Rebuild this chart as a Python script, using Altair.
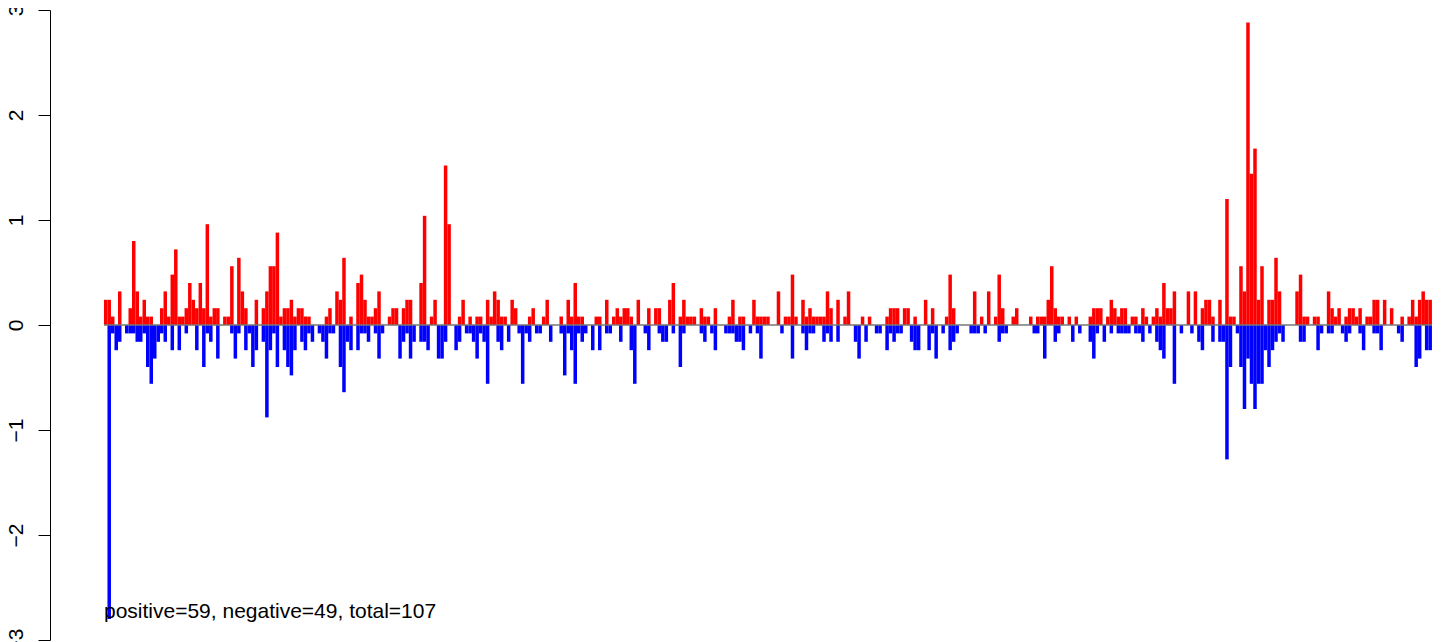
import altair as alt
import pandas as pd

# ---- data (379 positions, left to right) ----
positive_part1 = [0.24,0.24,0.08,0,0.32,0,0,0.16,0.80,0.32, 0.08,0.24,0.08,0.08,0,0,0.16,0.32,0.08,0.48,
                  0.72,0.08,0.08,0.16,0.40,0.24,0.16,0.40,0.16,0.96, 0.08,0.16,0.16,0,0.08,0.08,0.56,0,0.64,0.32,
                  0.16,0,0,0.24,0,0.16,0.32,0.56,0.56,0.88, 0.08,0.16,0.16,0.24,0.08,0.16,0.16,0.08,0.08,0,
                  0,0,0,0.08,0.16,0,0.32,0.24,0.64,0, 0.08,0,0.40,0.48,0.24,0.08]
positive_part2 = [0.08,0.16,0.32,0,0,0.08,0.16,0.16,0,0.16, 0.24,0.24,0,0,0.40,1.04,0,0.08,0.24,0,
                  0,1.52,0.96,0,0,0.08,0.24,0,0.08,0, 0.08,0.08,0,0.24,0.08,0.32,0.24,0.08,0.08,0,
                  0.24,0.16,0,0,0,0.08,0.16,0,0,0.08, 0.24,0,0,0,0.08,0,0.24,0.08,0.40,0.08,
                  0.08,0,0,0,0.08,0.08,0,0.24,0,0.08, 0.16,0.08,0.16,0.16,0.08,0]
positive_part3 = [0.24,0,0,0.16,0,0.16,0.16,0,0,0.24, 0.40,0,0.08,0.24,0.08,0.08,0.08,0,0.16,0.08,
                  0.08,0,0.16,0,0,0,0.08,0.24,0,0.08, 0.08,0,0,0.24,0.08,0.08,0.08,0.08,0,0,
                  0.32,0,0.08,0.08,0.48,0.08,0,0.24,0.08,0.16, 0.08,0.08,0.08,0.08,0.32,0.16,0,0.24,0,0.08,
                  0.32,0,0,0,0.08,0,0.08,0,0,0, 0,0.08,0.16,0.16,0.16,0,0.16]
positive_part4 = [0.16,0,0.08,0,0,0.24,0,0.16,0,0, 0,0.08,0.48,0.16,0,0,0,0,0,0.32,
                  0,0.08,0,0.32,0,0.08,0.48,0.16,0,0, 0.08,0.16,0,0,0,0.08,0,0.08,0.08,0.08,
                  0.24,0.56,0.16,0.08,0.08,0,0.08,0,0.08,0, 0,0,0.08,0.16,0.16,0.16,0,0.08,0.24,0.16,
                  0.08,0.16,0.16,0,0.08,0.08,0,0.16,0.08,0, 0.08,0.16,0.08,0.40,0.16,0.16,0.32]
positive_part5 = [0,0,0,0.32,0,0.32,0,0.16,0.24,0.24, 0.08,0,0.24,0,1.20,0.08,0.08,0,0.56,0.32,
                  2.88,1.44,1.68,0.24,0.56,0,0.24,0.24,0.64,0.32, 0,0,0,0,0.32,0.48,0.08,0.08,0,0.08,
                  0.08,0,0,0.32,0.16,0.08,0.16,0,0.08,0.16, 0.16,0.08,0.16,0,0.08,0.08,0.24,0.24,0,0.24,
                  0,0.16,0,0,0.08,0,0.08,0.24,0.08,0.24, 0.32,0.24,0.24]

negative_part1 = [0,-2.80,-0.08,-0.24,-0.16,0,-0.08,-0.08,-0.08,-0.16, -0.16,-0.08,-0.40,-0.56,-0.32,-0.16,-0.08,-0.16,0,-0.24,
                  0,-0.24,0,-0.08,0,0,-0.24,0,-0.40,-0.08, -0.16,0,-0.32,0,0,0,-0.08,-0.32,-0.08,0,
                  -0.24,-0.08,-0.40,-0.24,0,-0.16,-0.88,-0.24,-0.08,-0.40, 0,-0.24,-0.40,-0.48,-0.24,0,-0.16,-0.24,-0.08,-0.16,
                  0,-0.08,-0.16,-0.32,-0.08,-0.08,0,-0.40,-0.64,-0.16, -0.24,0,-0.24,-0.08,-0.08,-0.16]
negative_part2 = [0,-0.08,-0.32,-0.08,0,0,0,0,-0.32,-0.16, -0.08,-0.32,-0.16,0,-0.16,-0.16,-0.24,0,0,-0.32,
                  -0.32,-0.16,0,0,-0.24,-0.16,0,-0.08,-0.08,-0.16, -0.32,-0.08,-0.16,-0.56,0,0,-0.16,-0.24,0,-0.16,
                  0,0,-0.08,-0.56,-0.08,-0.16,0,-0.08,-0.08,0, 0,-0.16,0,0,-0.08,-0.48,-0.08,-0.24,-0.56,-0.08,
                  -0.16,-0.08,0,-0.24,0,-0.24,0,-0.08,-0.08,0, 0,-0.16,0,0,-0.24,-0.56]
negative_part3 = [0,0,-0.08,-0.24,0,0,-0.08,-0.16,-0.16,0, -0.08,0,-0.40,-0.08,0,0,0,0,-0.08,-0.16,
                  0,-0.08,-0.24,0,0,-0.08,-0.08,-0.08,-0.16,-0.16, -0.24,0,-0.08,0,-0.08,-0.32,0,0,0,0,
                  0,-0.08,0,0,-0.32,0,0,-0.08,-0.24,-0.08, -0.08,0,0,-0.16,-0.08,-0.16,0,-0.16,0,0,
                  0,0,-0.16,-0.32,0,-0.16,0,0,-0.08,-0.08, 0,-0.24,-0.08,-0.16,-0.08,-0.08,0]
negative_part4 = [0,-0.16,-0.24,-0.24,0,0,-0.24,-0.08,-0.32,0, -0.08,0,-0.24,-0.16,-0.08,0,0,0,-0.08,-0.08,
                  -0.08,0,-0.08,0,0,0,-0.16,-0.08,-0.08,0, 0,0,0,0,0,0,-0.08,-0.08,0,-0.32,
                  0,0,-0.16,-0.08,0,0,0,-0.16,0,-0.08, 0,0,-0.16,-0.32,-0.08,0,-0.16,0,-0.08,0,
                  -0.08,-0.08,-0.08,-0.08,0,-0.08,-0.08,-0.16,0,-0.08, 0,-0.16,-0.24,-0.32,0,0,-0.56]
negative_part5 = [0,-0.08,0,0,-0.08,0,-0.16,-0.24,0,0, -0.16,0,-0.16,-0.16,-1.28,-0.40,0,-0.08,-0.40,-0.80,
                  -0.32,-0.56,-0.80,-0.56,-0.56,-0.24,-0.40,-0.24,-0.16,-0.08, -0.16,0,0,0,0,-0.16,-0.16,0,0,0,
                  -0.24,-0.08,0,-0.08,-0.08,0,0,-0.08,-0.16,-0.08, 0,0,-0.08,-0.24,0,0,-0.08,-0.08,-0.24,0,
                  0,0,0,-0.08,-0.16,0,0,0,-0.40,-0.32, 0,-0.24,-0.24]

annotation = "positive=59, negative=49, total=107"
y_ticks = [-3, -2, -1, 0, 1, 2, 3]

positive = positive_part1 + positive_part2 + positive_part3 + positive_part4 + positive_part5
negative = negative_part1 + negative_part2 + negative_part3 + negative_part4 + negative_part5
n = len(positive)

df = pd.DataFrame({
    "start": list(range(n)),
    "end": [i + 1 for i in range(n)],
    "pos": positive,
    "neg": negative[:n],
})

FONT = "Liberation Sans"
xscale = alt.Scale(domain=[-15.4, 381.3], nice=False, zero=False)
yscale = alt.Scale(domain=[-3, 3], nice=False, zero=False)

base = alt.Chart(df)

red = base.mark_bar(color="#FF0000").encode(
    x=alt.X("start:Q", scale=xscale, axis=None),
    x2="end:Q",
    y=alt.Y("pos:Q", scale=yscale,
            axis=alt.Axis(values=y_ticks, title=None, grid=False,
                          labelExpr="datum.value < 0 ? '\u2212' + (-datum.value) : '' + datum.value",
                          labelAngle=270, labelAlign="center", labelBaseline="bottom",
                          labelFont=FONT, labelFontSize=21, labelColor="#000",
                          labelPadding=12, tickSize=12, tickColor="#000",
                          domainColor="#000", tickWidth=1, domainWidth=1)),
    y2=alt.datum(0),
)

blue = base.mark_bar(color="#0000FF").encode(
    x=alt.X("start:Q", scale=xscale),
    x2="end:Q",
    y=alt.Y("neg:Q", scale=yscale),
    y2=alt.datum(0),
)

zero_line = alt.Chart(pd.DataFrame({"a": [0], "b": [n], "y": [0]})).mark_rule(
    color="#777777", strokeWidth=1.3
).encode(
    x=alt.X("a:Q", scale=xscale),
    x2="b:Q",
    y=alt.Y("y:Q", scale=yscale),
)

label = alt.Chart(pd.DataFrame({"x": [0], "y": [-2.73], "t": [annotation]})).mark_text(
    align="left", baseline="middle", font=FONT, fontSize=21, color="#000"
).encode(
    x=alt.X("x:Q", scale=xscale),
    y=alt.Y("y:Q", scale=yscale),
    text="t:N",
)

chart = alt.layer(red, blue, zero_line, label).properties(
    width=1390, height=630,
    background="white",
    autosize=alt.AutoSizeParams(type="none"),
    padding={"left": 42, "top": 2, "right": 0, "bottom": 2},
).configure_view(stroke=None)

chart.save("out.html", embed_options={"renderer": "svg", "actions": False})
